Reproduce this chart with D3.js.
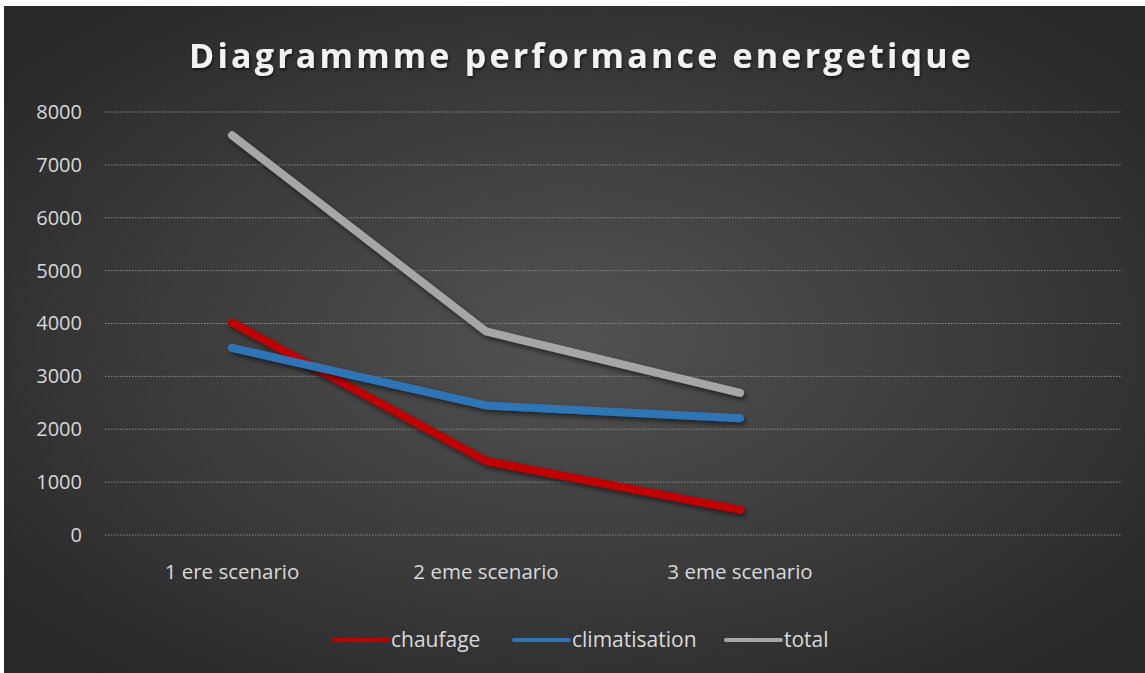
<!DOCTYPE html>
<html>
<head>
<meta charset="utf-8">
<script src="https://cdn.jsdelivr.net/npm/d3@7"></script>
<style>
  html, body { margin: 0; padding: 0; background: #ffffff; }
  svg { display: block; }
</style>
</head>
<body>
<svg id="chart" width="1145" height="673"></svg>
<script>
// Chart data
const categories = ["1 ere scenario", "2 eme scenario", "3 eme scenario", ""];
const chaufage = [4020, 1400, 480];
const climatisation = [3540, 2450, 2210];
const total = [7560, 3850, 2690];
const yTicks = [0, 1000, 2000, 3000, 4000, 5000, 6000, 7000, 8000];
const seriesNames = ["chaufage", "climatisation", "total"];
const seriesColors = ["#c00000", "#2e75b6", "#a6a6a6"];

const series = [
  { name: seriesNames[0], values: chaufage, color: seriesColors[0] },
  { name: seriesNames[1], values: climatisation, color: seriesColors[1] },
  { name: seriesNames[2], values: total, color: seriesColors[2] }
];

const W = 1145, H = 673;
const FONT = "'Open Sans', 'Liberation Sans', sans-serif";
const svg = d3.select("#chart");
const defs = svg.append("defs");

// Dark radial background
const bg = defs.append("radialGradient").attr("id", "bgGrad")
  .attr("cx", "50%").attr("cy", "50%").attr("r", "65%");
bg.append("stop").attr("offset", "0%").attr("stop-color", "#525252");
bg.append("stop").attr("offset", "100%").attr("stop-color", "#282828");

const shadow = defs.append("filter").attr("id", "lineShadow")
  .attr("x", "-10%").attr("y", "-10%").attr("width", "130%").attr("height", "130%");
shadow.append("feDropShadow").attr("dx", 2).attr("dy", 3).attr("stdDeviation", 2.5)
  .attr("flood-color", "#000").attr("flood-opacity", 0.55);

const titleShadow = defs.append("filter").attr("id", "titleShadow");
titleShadow.append("feDropShadow").attr("dx", 1).attr("dy", 2).attr("stdDeviation", 1.5)
  .attr("flood-color", "#000").attr("flood-opacity", 0.6);

svg.append("rect").attr("x", 4).attr("y", 6).attr("width", W - 4).attr("height", H - 6)
  .attr("fill", "url(#bgGrad)");

// Plot area
const plot = { left: 105, right: 1121, top: 112, bottom: 535 };

const x = d3.scaleBand().domain(categories.map((c, i) => i))
  .range([plot.left, plot.right]).padding(0);
const y = d3.scaleLinear().domain([0, 8000]).range([plot.bottom, plot.top]);

// Gridlines
const grid = svg.append("g");
grid.selectAll("line").data(yTicks).join("line")
  .attr("x1", plot.left).attr("x2", plot.right)
  .attr("y1", d => y(d)).attr("y2", d => y(d))
  .attr("stroke", "#8c8c8c").attr("stroke-width", 1)
  .attr("stroke-dasharray", "1.5,1.5");

// Y axis labels
const yAxis = d3.axisLeft(y).tickValues(yTicks).tickSize(0).tickPadding(0).tickFormat(d3.format("d"));
const yg = svg.append("g").attr("transform", `translate(82,0)`).call(yAxis);
yg.select(".domain").remove();
yg.selectAll("text").attr("fill", "#d9d9d9")
  .style("font-family", FONT)
  .style("font-size", "20px");

// X axis labels
const xAxis = d3.axisBottom(x).tickSize(0).tickPadding(0).tickFormat(i => categories[i]);
const xg = svg.append("g").attr("transform", `translate(0,563)`).call(xAxis);
xg.select(".domain").remove();
xg.selectAll("text").attr("fill", "#d9d9d9").attr("dy", "0.8em")
  .style("font-family", FONT)
  .style("font-size", "20.5px");

// Lines
const line = d3.line()
  .x((d, i) => x(i) + x.bandwidth() / 2)
  .y(d => y(d));

svg.append("g").selectAll("path").data(series).join("path")
  .attr("d", s => line(s.values))
  .attr("fill", "none")
  .attr("stroke", s => s.color)
  .attr("stroke-width", 8)
  .attr("stroke-linecap", "round")
  .attr("stroke-linejoin", "round")
  .attr("filter", "url(#lineShadow)");

// Title
const title = svg.append("text")
  .attr("x", 580).attr("y", 68)
  .attr("text-anchor", "middle")
  .attr("fill", "#f2f2f2")
  .attr("filter", "url(#titleShadow)")
  .style("font-family", FONT)
  .style("font-weight", "bold")
  .style("font-size", "34px")
  .text("Diagrammme performance energetique");
{
  const target = 785;
  const len = title.node().getComputedTextLength();
  const n = title.text().length;
  const ls = (target - len) / n;
  title.style("letter-spacing", ls + "px").attr("x", 580 + ls / 2);
}

// Legend
const legendItems = [
  { x: 333, w: 55, tx: 391 },
  { x: 514, w: 55, tx: 572 },
  { x: 726, w: 55, tx: 784 }
];
const lg = svg.append("g");
series.forEach((s, i) => {
  const it = legendItems[i];
  lg.append("line")
    .attr("x1", it.x).attr("x2", it.x + it.w)
    .attr("y1", 640).attr("y2", 640)
    .attr("stroke", s.color).attr("stroke-width", 4).attr("stroke-linecap", "round");
  lg.append("text")
    .attr("x", it.tx).attr("y", 647)
    .attr("fill", "#d9d9d9")
    .style("font-family", FONT)
    .style("font-size", "21px")
    .text(s.name);
});
</script>
</body>
</html>
